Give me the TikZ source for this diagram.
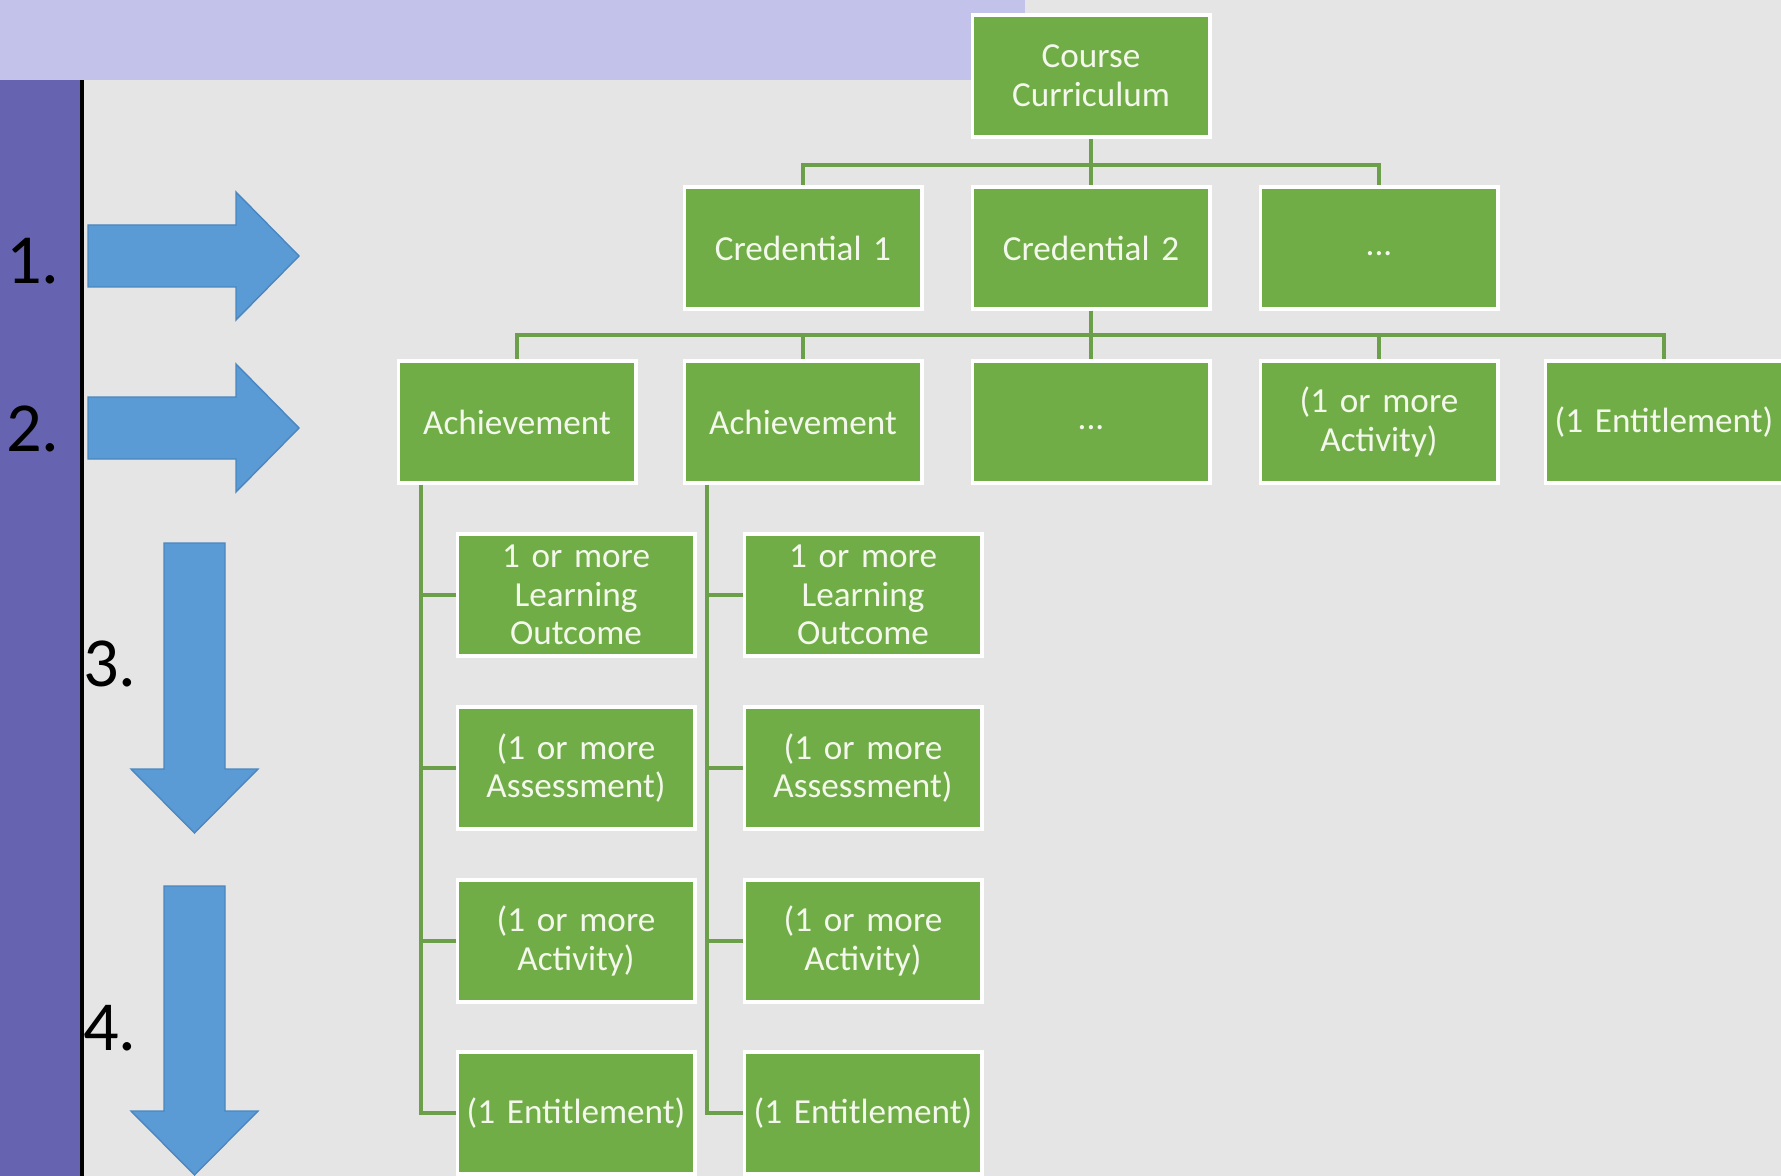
\documentclass[tikz,border=0pt]{standalone}
\usepackage{fontspec}
\setmainfont{Carlito}
\setsansfont{Carlito}
\usetikzlibrary{calc}
\usetikzlibrary{positioning}

\definecolor{slidegrey}{HTML}{E5E5E5}
\definecolor{bandlav}{HTML}{C3C2EA}
\definecolor{sidebar}{HTML}{6664B0}
\definecolor{boxgreen}{HTML}{70AD47}
\definecolor{linegreen}{HTML}{6C9F4A}
\definecolor{arrowblue}{HTML}{5B9BD5}
\definecolor{arrowedge}{HTML}{4A86C0}
\definecolor{boxtext}{HTML}{F4F8EC}

\tikzset{every picture/.style={/utils/exec={\sffamily}}}
\tikzset{
  orgbox/.style={draw=white, line width=1.1pt, fill=boxgreen, text=boxtext,
    minimum width=2.37cm, minimum height=1.22cm, text width=2.3cm,
    align=center, inner sep=0pt, font=\fontsize{10}{11}\selectfont},
  orglink/.style={draw=linegreen, line width=1pt},
  bigarrow/.style={fill=arrowblue, draw=arrowedge, line width=0.4pt},
  steplabel/.style={font=\fontsize{20}{24}\selectfont, text=black, inner sep=0pt}
}

\begin{document}
\begin{tikzpicture}[x=0.01cm, y=-0.01cm]
  \useasboundingbox (0,0) rectangle (1781,1176);
  % slide background
  \fill [slidegrey] (0,0) rectangle (1781,1176);
  \fill [bandlav] (0,0) rectangle (1025,80);
  \fill [sidebar] (0,80) rectangle (82,1176);
  \draw [line width=1.2pt] (82,80) -- (82,1176);

  % step arrows
  \foreach \y in {256,428}
    \draw [bigarrow] (88,\y-31) -- (236,\y-31) -- (236,\y-64) -- (299,\y)
      -- (236,\y+64) -- (236,\y+31) -- (88,\y+31) -- cycle;
  \foreach \ya/\yb/\yc in {543/769/833, 886/1111/1175}
    \draw [bigarrow] (164,\ya) -- (225,\ya) -- (225,\yb) -- (258,\yb)
      -- (194.5,\yc) -- (131,\yb) -- (164,\yb) -- cycle;

  \node [steplabel] (stepa) at (33,261) {1.};
  \node [steplabel] (stepb) at (33,429) {2.};
  \node [steplabel] (stepc) at (110,664) {3.};
  \node [steplabel] (stepd) at (110,1028) {4.};

  % chart
  \node [orgbox] (course) at (1091,76) {Course\\Curriculum};

  \node [orgbox] (cred1) at (803,248) {Credential 1};
  \node [orgbox] (cred2) at (1091,248) {Credential 2};
  \node [orgbox] (credx) at (1379,248) {\strut...};

  \node [orgbox] (ach1) at (517,422) {Achievement};
  \node [orgbox] (ach2) at (803,422) {Achievement};
  \node [orgbox] (achx) at (1091,422) {\strut...};
  \node [orgbox] (actv) at (1379,422) {(1 or more\\Activity)};
  \node [orgbox] (entl) at (1664,422) {(1 Entitlement)};

  \foreach \i/\x in {1/576, 2/863} {
    \node [orgbox] (lo\i) at (\x,595) {1 or more\\Learning\\Outcome};
    \node [orgbox] (as\i) at (\x,768) {(1 or more\\Assessment)};
    \node [orgbox] (av\i) at (\x,941) {(1 or more\\Activity)};
    \node [orgbox] (en\i) at (\x,1113) {(1 Entitlement)};
  }

  \coordinate (bar1) at (0,165);
  \foreach \c in {cred1,cred2,credx}
    \draw [orglink] (course.south) -- (course.south |- bar1) -| (\c.north);
  \coordinate (bar2) at (0,335);
  \foreach \c in {ach1,ach2,achx,actv,entl}
    \draw [orglink] (cred2.south) -- (cred2.south |- bar2) -| (\c.north);

  \foreach \i in {1,2} {
    \coordinate (trunk\i) at ([xshift=0.245cm]ach\i.south west);
    \foreach \k in {lo,as,av,en}
      \draw [orglink] (trunk\i) |- (\k\i.west);
  }
\end{tikzpicture}
\end{document}
